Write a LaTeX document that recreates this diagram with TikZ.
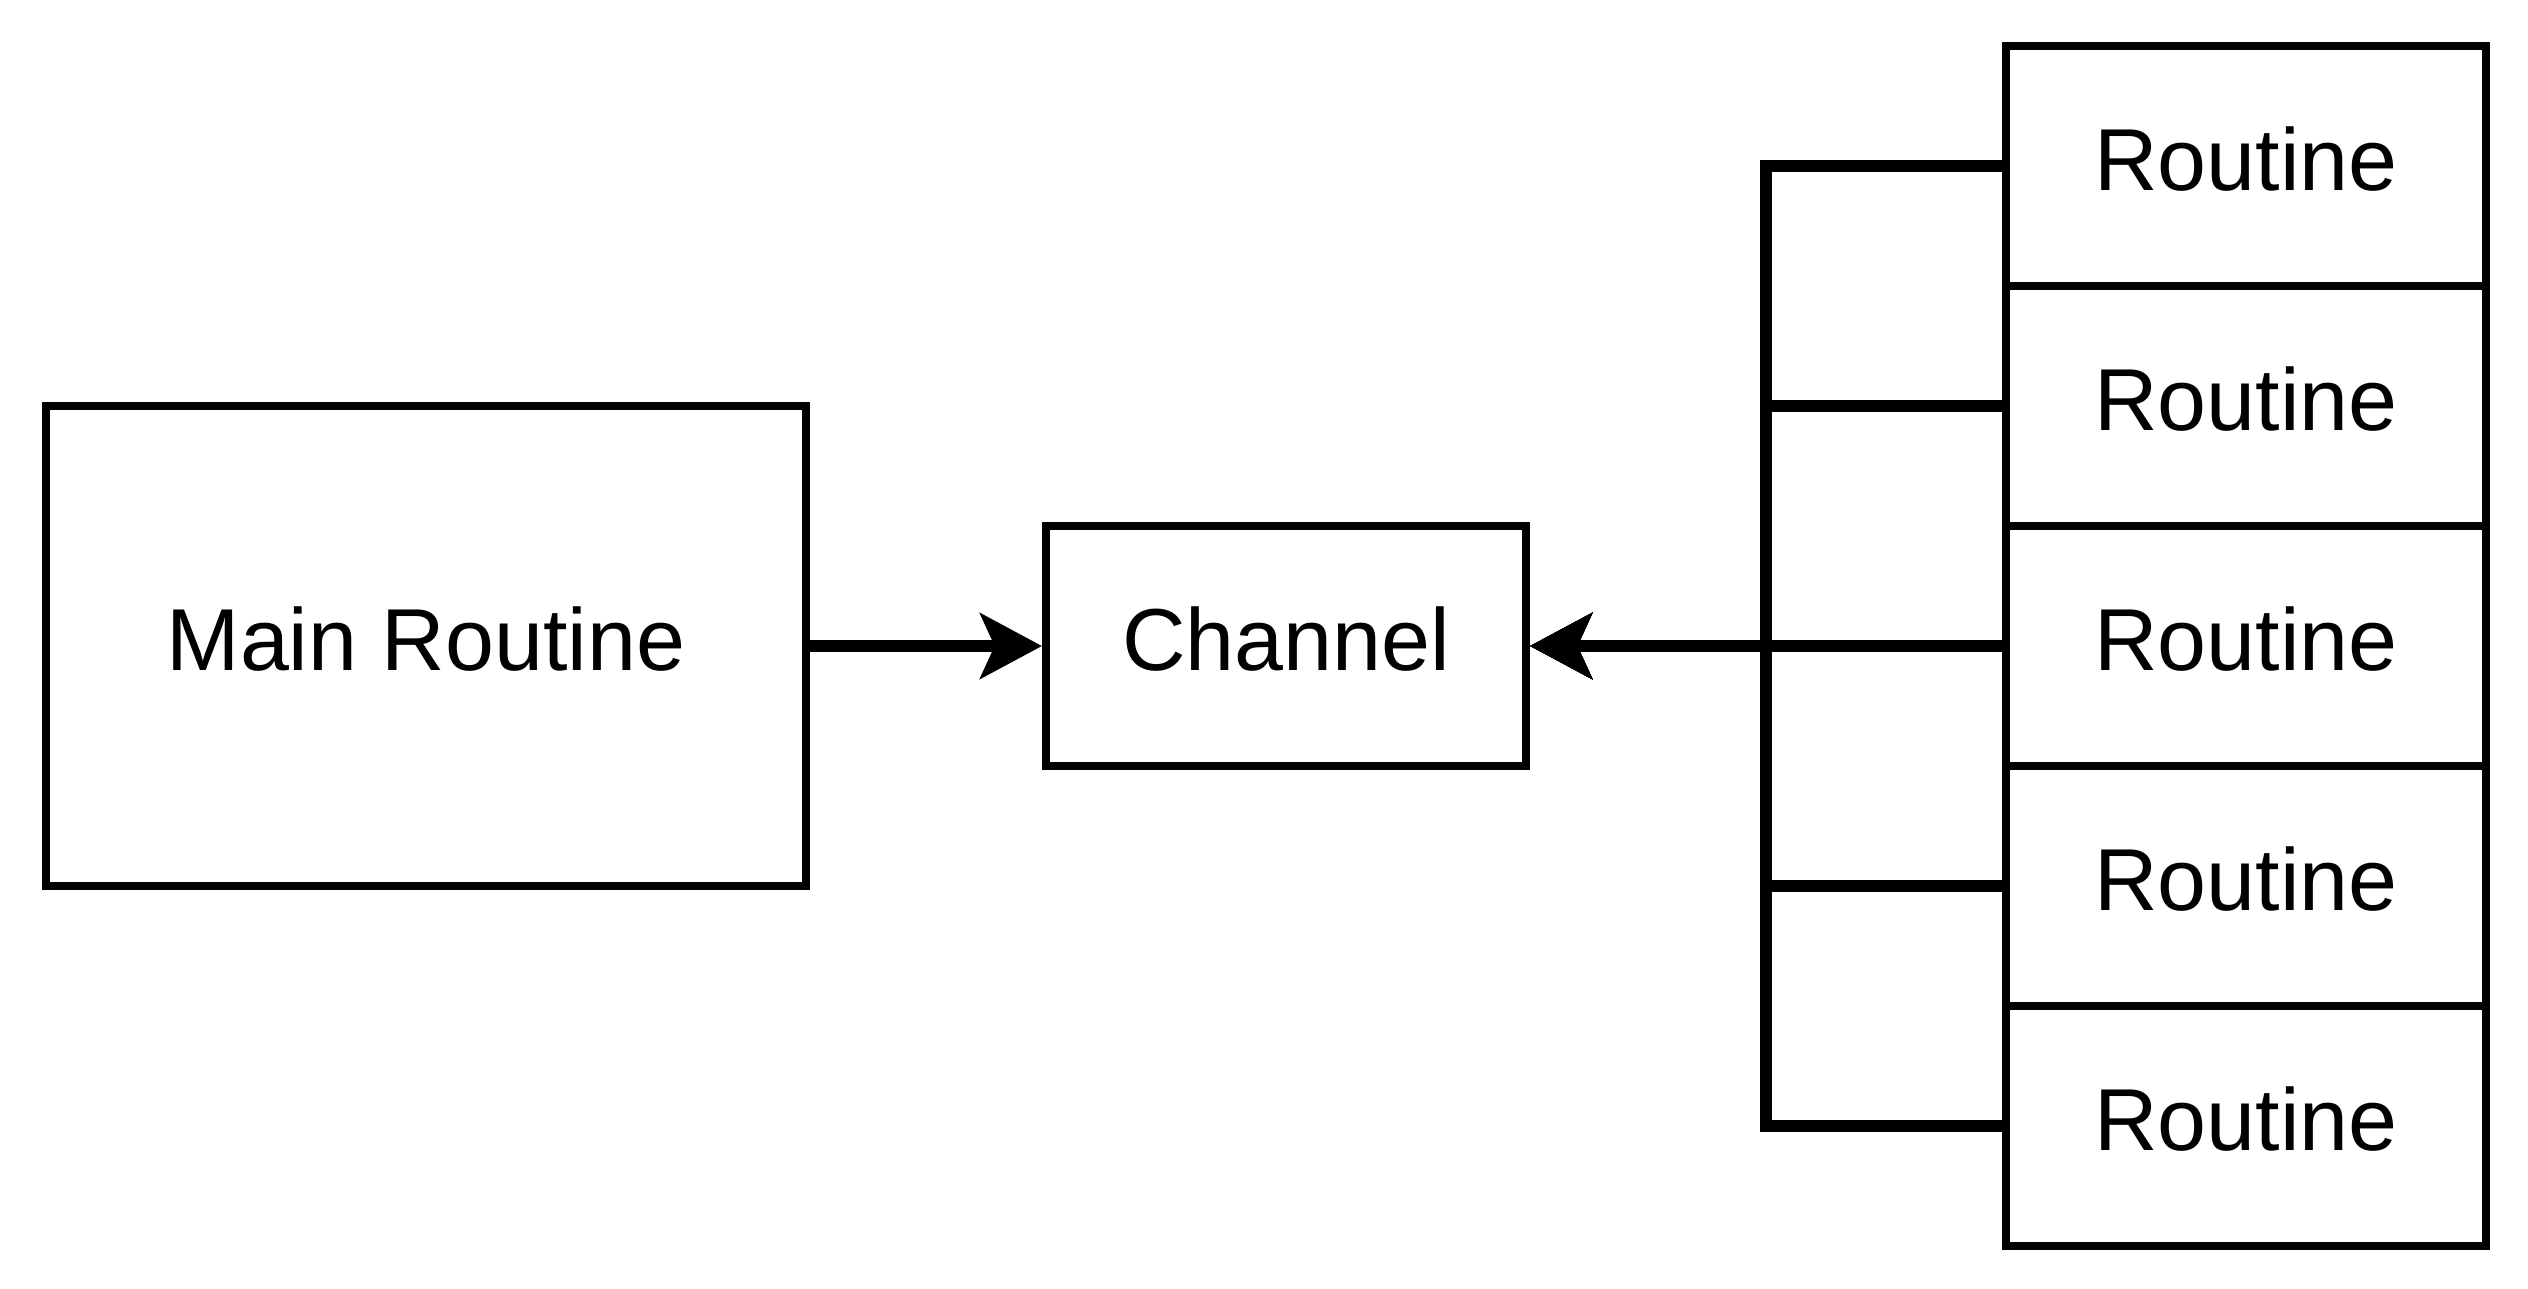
\documentclass[tikz,border=0pt]{standalone}
\usepackage{fontspec}
\setmainfont{Liberation Sans}
\usetikzlibrary{arrows.meta}
\begin{document}
\begin{tikzpicture}[x=0.3pt,y=-0.3pt,
  box/.style={draw=black,line width=2.4pt,fill=white,inner sep=0pt,
    font=\fontsize{26.4pt}{30pt}\selectfont,text height=19pt,text depth=4.3pt},
  conn/.style={line width=3.6pt,draw=black,line join=miter},
  tip/.style={-{Stealth[length=18.5pt,width=19.5pt,inset=4.3pt]}}]
\useasboundingbox (0,0) rectangle (2528,1288);

% main routine and channel
\node[box,minimum width=228pt,minimum height=144pt] (main) at (426,646) {Main Routine};
\node[box,minimum width=144pt,minimum height=72pt] (chan) at (1286,646) {Channel};

% stack of worker routines
\foreach \i/\y in {1/166,2/406,3/646,4/886,5/1126}
  \node[box,minimum width=144pt,minimum height=72pt] (r\i) at (2246,\y) {Routine};

% collecting bus between the routines and the channel
\coordinate (bus) at (1766,646);

\draw[conn,tip] (main.east) -- (chan.west);
\foreach \i in {1,...,5}
  \draw[conn,tip] (r\i.west) -| (bus) -- (chan.east);
\end{tikzpicture}
\end{document}
